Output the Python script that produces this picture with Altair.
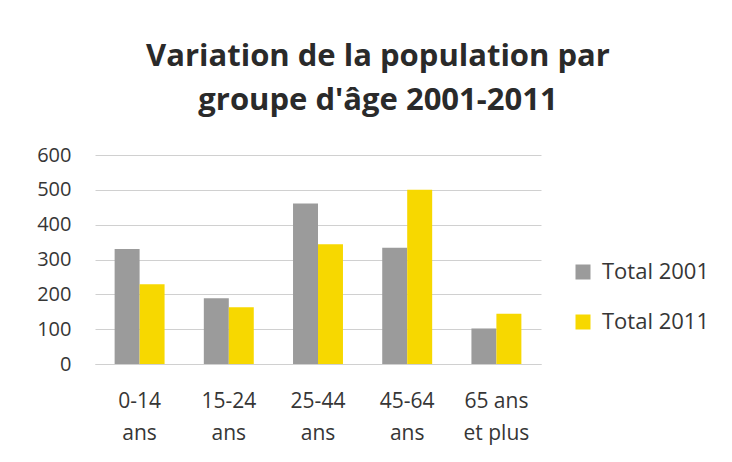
import altair as alt
import pandas as pd

categories = ["0-14|ans", "15-24|ans", "25-44|ans", "45-64|ans", "65 ans|et plus"]
series = ["Total 2001", "Total 2011"]
values_2001 = [330, 189, 461, 334, 102]
values_2011 = [229, 163, 344, 500, 144]
colors = ["#9b9b9b", "#f7d800"]

rows = []
for c, a, b in zip(categories, values_2001, values_2011):
    rows.append({"groupe": c, "serie": series[0], "valeur": a})
    rows.append({"groupe": c, "serie": series[1], "valeur": b})
df = pd.DataFrame(rows)

FONT = "Open Sans"
TXT = "#363636"

chart = alt.Chart(df).mark_bar().encode(
    x=alt.X("groupe:N", sort=categories, title=None,
            scale=alt.Scale(paddingInner=0.44, paddingOuter=0.22),
            axis=alt.Axis(labelExpr="split(datum.label, '|')", labelAngle=0,
                          labelFontSize=21, labelColor=TXT, labelFont=FONT,
                          labelLineHeight=32, labelPadding=26, ticks=False,
                          domainColor="#d0d0d0", labelBaseline="top", grid=False)),
    xOffset=alt.XOffset("serie:N", sort=series),
    y=alt.Y("valeur:Q", title=None,
            scale=alt.Scale(domain=[0, 600]),
            axis=alt.Axis(values=[0, 100, 200, 300, 400, 500, 600], ticks=False,
                          domain=False, gridColor="#d0d0d0", labelFontSize=20,
                          labelColor=TXT, labelFont=FONT, labelPadding=24)),
    color=alt.Color("serie:N", sort=series,
                    scale=alt.Scale(domain=series, range=colors),
                    legend=alt.Legend(title=None, orient="none", legendX=477, legendY=106,
                                      symbolType="square", symbolSize=225,
                                      symbolStrokeWidth=0, labelFontSize=22,
                                      labelColor=TXT, labelFont=FONT,
                                      rowPadding=28, labelOffset=8)),
).properties(
    width=446, height=209,
    title=alt.TitleParams(["Variation de la population par", "groupe d'âge 2001-2011"],
                          fontSize=31, font=FONT, fontWeight="bold", color="#2a2a2a",
                          lineHeight=44, anchor="middle", dx=60, offset=28),
    padding={"top": 33, "left": 28, "right": 10, "bottom": 10},
).configure(background="white").configure_view(stroke=None)

chart.save("out.html", embed_options={"renderer": "svg", "actions": False})
